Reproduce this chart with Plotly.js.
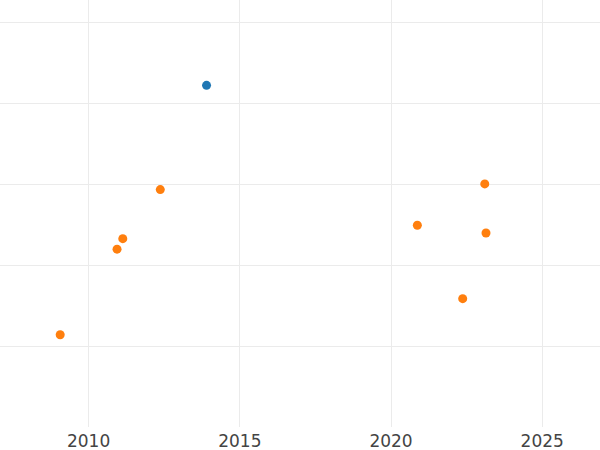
<!DOCTYPE html>
<html>
<head>
<meta charset="utf-8">
<script src="https://cdn.plot.ly/plotly-3.0.1.min.js"></script>
<style>html,body{margin:0;padding:0;background:#fff;}#chart{width:600px;height:450px;}</style>
</head>
<body>
<div id="chart"></div>
<script>
// Series A (blue)
const yearsA = [2013.90];
const valuesA = [84.4];
// Series B (orange)
const yearsB = [2009.06, 2010.94, 2011.13, 2012.37, 2020.87, 2022.37, 2023.10, 2023.14];
const valuesB = [22.9, 44.0, 46.6, 58.7, 49.9, 31.8, 60.1, 48.0];
// Tick labels on the x axis
const xTicks = [2010, 2015, 2020, 2025];

const traces = [
  {x: yearsA, y: valuesA, type: 'scatter', mode: 'markers', name: 'A',
   marker: {color: '#1f77b4', size: 9}},
  {x: yearsB, y: valuesB, type: 'scatter', mode: 'markers', name: 'B',
   marker: {color: '#ff7f0e', size: 9}}
];

const layout = {
  width: 600, height: 450,
  margin: {l: 0, r: 0, t: 0, b: 23, pad: 0},
  paper_bgcolor: '#ffffff', plot_bgcolor: '#ffffff',
  showlegend: false,
  font: {family: '"DejaVu Sans", sans-serif', color: '#444', size: 17},
  xaxis: {
    range: [2007.07, 2026.91],
    tickvals: xTicks, ticktext: xTicks.map(String),
    showgrid: true, gridcolor: '#ebebeb', gridwidth: 1,
    zeroline: false, showline: false, ticks: '',
    ticklabelstandoff: 2,
    tickfont: {size: 17, color: '#444'}
  },
  yaxis: {
    range: [0.15, 105.45],
    tick0: 0, dtick: 20,
    showgrid: true, gridcolor: '#ebebeb', gridwidth: 1,
    zeroline: false, showline: false, showticklabels: false, ticks: ''
  }
};

Plotly.newPlot('chart', traces, layout, {displayModeBar: false, staticPlot: true});
</script>
</body>
</html>
